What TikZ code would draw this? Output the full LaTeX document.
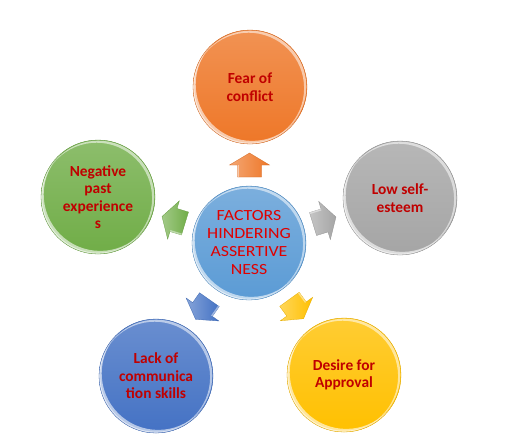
\documentclass[tikz,border=0pt]{standalone}
\usepackage{fontspec}
\setmainfont{Carlito}
\newfontfamily\widefont[FakeStretch=1.15]{Carlito}
\usetikzlibrary{calc}
\definecolor{txt}{HTML}{C00000}
\definecolor{ctxt}{HTML}{E00000}
\definecolor{corange}{HTML}{EE7728}
\definecolor{cgray}{HTML}{A5A5A5}
\definecolor{cgreen}{HTML}{70AD47}
\definecolor{cblue}{HTML}{4472C4}
\definecolor{cgold}{HTML}{FFC000}
\definecolor{ccenter}{HTML}{5B9BD5}
\tikzset{
  ball/.style={circle, minimum size=114pt, inner sep=0pt, fill=#1,
    draw=#1!85!black, line width=0.3pt, align=center,
    path picture={
      \shade[top color=#1!80!white, bottom color=#1]
        (path picture bounding box.north west) rectangle (path picture bounding box.south east);
      \fill[white, fill opacity=0.6, even odd rule]
        (path picture bounding box.center) circle (57.5pt)
        ([shift={(2.2pt,2.6pt)}]path picture bounding box.center) circle (56.5pt);
      \fill[white, fill opacity=0.55, even odd rule]
        ([shift={(0.3pt,0.3pt)}]path picture bounding box.center) circle (56pt)
        ([shift={(-1.4pt,-1.2pt)}]path picture bounding box.center) circle (55.5pt);
    }},
  outer/.style={ball=#1, text=txt, font=\bfseries\fontsize{15.4}{17.5}\selectfont},
  inner/.style={ball=ccenter, text=ctxt, font=\widefont\fontsize{15.5}{18}\selectfont},
  blockarrow/.style={left color=#1!65!white, right color=#1, draw=#1!90!black, line width=0.3pt}
}
\newcommand\blkarrow[3]{%
  \begin{scope}[shift={(#1)}, rotate=#2]
    \path[blockarrow=#3] (12pt,0pt) -- (0pt,20pt) -- (0pt,12pt) -- (-12pt,12pt)
      -- (-12pt,-12pt) -- (0pt,-12pt) -- (0pt,-20pt) -- cycle;
    \fill[white, fill opacity=0.45] (0pt,12pt) -- (-12pt,12pt) -- (-12pt,10.5pt) -- (0pt,10.5pt) -- cycle;
  \end{scope}}
\begin{document}
\begin{tikzpicture}[x=1pt,y=-1pt]
\useasboundingbox (0,0) rectangle (526,440);
\node[inner] (c) at (249,243) {FACTORS\\HINDERING\\ASSERTIVE\\NESS};
\node[outer=corange] (fear) at (250,87) {Fear of\\conflict};
\node[outer=cgray] (low) at (400,198) {Low self-\\esteem};
\node[outer=cgold] (des) at (344,375) {Desire for\\Approval};
\node[outer=cblue] (lack) at (156,376) {Lack of\\communica\\tion skills};
\node[outer=cgreen] (neg) at (98,197) {Negative\\past\\experience\\s};
\coordinate (a1) at ($(c)!0.5!(fear)$);
\coordinate (a2) at ($(c)!0.5!(low)$);
\coordinate (a3) at ($(c)!0.5!(des)$);
\coordinate (a4) at ($(c)!0.5!(lack)$);
\coordinate (a5) at ($(c)!0.5!(neg)$);
\blkarrow{a1}{90}{corange}
\blkarrow{a2}{17}{cgray}
\blkarrow{a3}{306}{cgold}
\blkarrow{a4}{235}{cblue}
\blkarrow{a5}{163}{cgreen}
\end{tikzpicture}
\end{document}
